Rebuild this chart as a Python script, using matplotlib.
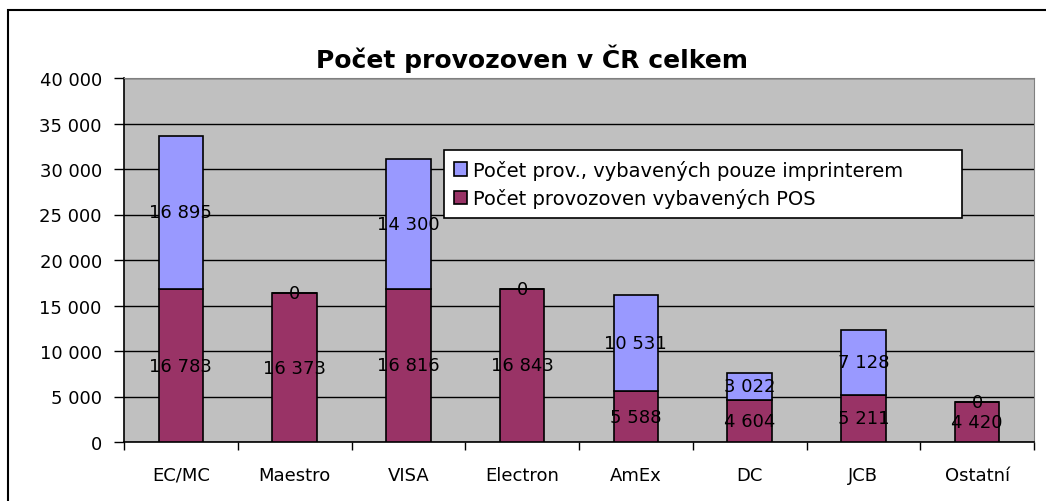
import matplotlib.pyplot as plt
import numpy as np
from matplotlib.patches import Rectangle

categories = ['EC/MC', 'Maestro', 'VISA', 'Electron', 'AmEx', 'DC', 'JCB', 'Ostatní']
pos_counts = [16783, 16373, 16816, 16843, 5588, 4604, 5211, 4420]
imprinter_counts = [16895, 0, 14300, 0, 10531, 3022, 7128, 0]
yticks = [0, 5000, 10000, 15000, 20000, 25000, 30000, 35000, 40000]

plt.rcParams['font.family'] = ['DejaVu Sans']


def fmt(v):
    return f'{v:,}'.replace(',', ' ')


fig = plt.figure(figsize=(10.46, 5.02), dpi=100)
ax = fig.add_axes([124 / 1046, 1 - 443 / 502, 910 / 1046, 364 / 502])
ax.set_facecolor('#C0C0C0')

x = np.arange(len(categories))
w = 0.39
b1 = ax.bar(x, pos_counts, w, color='#993366', edgecolor='black', linewidth=1.2,
            label='Počet provozoven vybavených POS', zorder=3)
b2 = ax.bar(x, imprinter_counts, w, bottom=pos_counts, color='#9999FF', edgecolor='black',
            linewidth=1.2, label='Počet prov., vybavených pouze imprinterem', zorder=3)

for i in range(len(categories)):
    ax.text(x[i], pos_counts[i] / 2, fmt(pos_counts[i]), ha='center', va='center',
            fontsize=13, zorder=4)
    ax.text(x[i], pos_counts[i] + imprinter_counts[i] / 2, fmt(imprinter_counts[i]),
            ha='center', va='center', fontsize=13, zorder=4)

ax.set_xlim(-0.5, len(categories) - 0.5)
ax.set_ylim(0, 40000)
ax.set_yticks(yticks)
ax.set_yticklabels([fmt(v) for v in yticks], fontsize=13)
ax.yaxis.grid(True, color='black', linewidth=1, zorder=1)
ax.set_axisbelow(True)

ax.set_xticks(x)
ax.set_xticklabels(categories, fontsize=13)
ax.set_xticks(np.arange(len(categories) + 1) - 0.5, minor=True)
ax.tick_params(axis='x', which='major', length=0, pad=17)
ax.tick_params(axis='x', which='minor', length=6, width=1, direction='out')
ax.tick_params(axis='y', length=7, width=1, direction='out', pad=9)

for s in ['top', 'right']:
    ax.spines[s].set_color('#808080')
for s in ['left', 'bottom']:
    ax.spines[s].set_color('black')
    ax.spines[s].set_linewidth(1.2)

fig.text(532 / 1046, 1 - 59 / 502, 'Počet provozoven v ČR celkem', ha='center', va='center',
         fontsize=18, fontweight='bold')

# legend box roughly 444..962 px wide, 151..221 px tall
handles = [b2, b1]
leg = ax.legend(handles, [h.get_label() for h in handles], loc='upper left',
                bbox_to_anchor=(444 / 1046, 1 - 221 / 502, 518 / 1046, 70 / 502),
                bbox_transform=fig.transFigure, mode='expand',
                borderaxespad=0, fancybox=False, framealpha=1, edgecolor='black',
                fontsize=14, handlelength=0.7, handleheight=0.7, handletextpad=0.3,
                borderpad=0.5, labelspacing=0.45)
leg.get_frame().set_linewidth(1.2)

fig.patches.append(Rectangle((8 / 1046, -0.1), 1.2, 1 - 11 / 502 + 0.1, transform=fig.transFigure,
                             fill=False, edgecolor='black', linewidth=1.5))

fig.savefig('out.png', dpi=100)
